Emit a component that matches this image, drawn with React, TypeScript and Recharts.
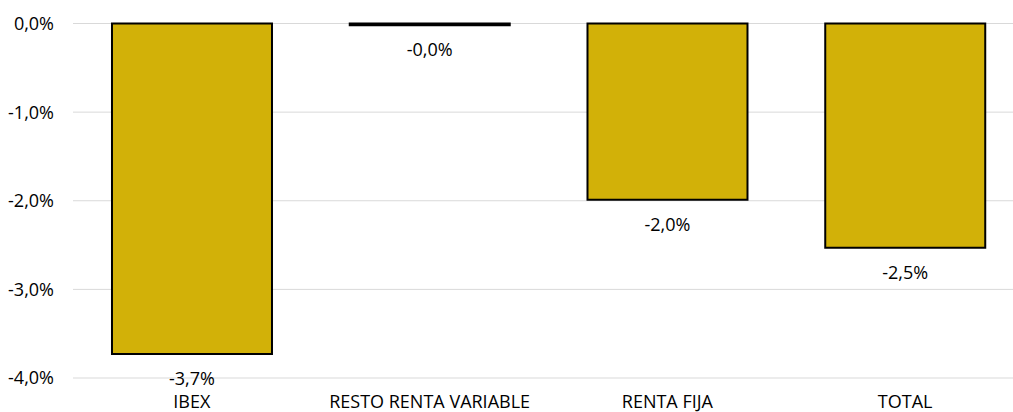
import React from "react";
import {
  BarChart,
  Bar,
  XAxis,
  YAxis,
  CartesianGrid,
  LabelList,
} from "recharts";

const categories = ["IBEX", "RESTO RENTA VARIABLE", "RENTA FIJA", "TOTAL"];
const values = [-3.73, -0.02, -1.99, -2.53];
const yTicks = [0, -1, -2, -3, -4];
const boundaryTicks = [0, 1, 2, 3, 4];

const data = categories.map((name, i) => ({ name, value: values[i] }));

const FONT = "'Open Sans', sans-serif";

const pct = (v: number) => v.toFixed(1).replace(".", ",") + "%";

const BarLabel = (props: any) => {
  const { x, y, width, height, value } = props;
  const bottom = Math.max(y, y + height);
  return (
    <text
      x={x + width / 2}
      y={bottom + 31}
      textAnchor="middle"
      fontFamily={FONT}
      fontSize={18}
      fill="#000"
    >
      {pct(Number(value))}
    </text>
  );
};

const App = () => {
  return (
    <div
      style={{
        position: "absolute",
        left: 0,
        top: 0,
        width: 1013,
        height: 412,
        overflow: "hidden",
        background: "#fff",
      }}
    >
      <BarChart
        width={1024}
        height={412}
        data={data}
        barCategoryGap="16.4%"
        margin={{ top: 23.5, right: 0, left: 0, bottom: 0 }}
      >
        <CartesianGrid vertical={false} stroke="#d9d9d9" strokeWidth={1} />
        <XAxis
          dataKey="name"
          axisLine={false}
          tickLine={false}
          height={34}
          tickMargin={11}
          interval={0}
          tick={{ fontFamily: FONT, fontSize: 18, fill: "#000" }}
        />
        <XAxis
          xAxisId="top"
          orientation="top"
          type="number"
          domain={[0, 4]}
          ticks={boundaryTicks}
          height={0}
          mirror
          tick={() => <g />}
          tickSize={4}
          tickLine={{ stroke: "#8c8c8c" }}
          axisLine={{ stroke: "#000", strokeWidth: 2 }}
        />
        <YAxis
          domain={[-4, 0]}
          ticks={yTicks}
          width={73}
          axisLine={false}
          tickLine={false}
          tickMargin={13}
          tickFormatter={pct}
          tick={{ fontFamily: FONT, fontSize: 18, fill: "#000" }}
        />
        <Bar
          dataKey="value"
          fill="#D2B108"
          stroke="#000"
          strokeWidth={2}
          isAnimationActive={false}
        >
          <LabelList dataKey="value" content={BarLabel} />
        </Bar>
      </BarChart>
    </div>
  );
};

export default App;
